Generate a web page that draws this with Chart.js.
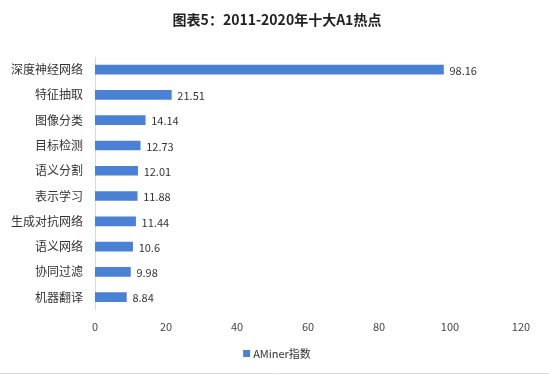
<!DOCTYPE html>
<html>
<head>
<meta charset="utf-8">
<script src="https://cdn.jsdelivr.net/npm/chart.js@4"></script>
<style>
  body { margin: 0; background: #fff; }
  canvas { display: block; }
</style>
</head>
<body>
<canvas id="myChart" width="549" height="385"></canvas>
<script>
// categories and values
var categories = ["深度神经网络", "特征抽取", "图像分类", "目标检测", "语义分割", "表示学习", "生成对抗网络", "语义网络", "协同过滤", "机器翻译"];
var values = [98.16, 21.51, 14.14, 12.73, 12.01, 11.88, 11.44, 10.6, 9.98, 8.84];
var valueLabels = ["98.16", "21.51", "14.14", "12.73", "12.01", "11.88", "11.44", "10.6", "9.98", "8.84"];
var xTicks = [0, 20, 40, 60, 80, 100, 120];

var titleText = "图表5：2011-2020年十大A1热点";
var font = "'Noto Sans CJK SC', 'Noto Sans', sans-serif";
var barColor = '#4a81d4';

// write the value next to each bar
var valuePlugin = {
    id: 'valueLabels',
    afterDatasetsDraw: function (chart) {
        var ctx = chart.ctx;
        var meta = chart.getDatasetMeta(0);
        ctx.save();
        ctx.font = "11px " + font;
        ctx.fillStyle = '#333';
        ctx.textBaseline = 'middle';
        meta.data.forEach(function (bar, i) {
            ctx.fillText(valueLabels[i], bar.x + 6, bar.y + 1);
        });
        ctx.restore();
    }
};

// title, legend and the grey rule, centred a bit right of the canvas middle like the original
var decorPlugin = {
    id: 'decor',
    afterDraw: function (chart) {
        var ctx = chart.ctx;
        var cx = 277;
        ctx.save();
        ctx.font = "bold 14px " + font;
        ctx.fillStyle = '#222';
        ctx.textAlign = 'center';
        ctx.textBaseline = 'middle';
        ctx.fillText(titleText, cx, 20);

        ctx.font = "11px " + font;
        var label = chart.data.datasets[0].label;
        var w = 7 + 3 + ctx.measureText(label).width;
        var x0 = cx - w / 2;
        ctx.fillStyle = chart.data.datasets[0].backgroundColor;
        ctx.fillRect(x0, 350, 7, 7);
        ctx.fillStyle = '#333';
        ctx.textAlign = 'left';
        ctx.fillText(label, x0 + 10, 354);

        ctx.strokeStyle = '#d9d9d9';
        ctx.lineWidth = 1;
        ctx.beginPath();
        ctx.moveTo(0, 373.5);
        ctx.lineTo(549, 373.5);
        ctx.stroke();
        ctx.restore();
    }
};

var ctx = document.getElementById('myChart').getContext('2d');
var chart = new Chart(ctx, {
    type: 'bar',
    data: {
        labels: categories,
        datasets: [{
            label: "AMiner指数",
            data: values,
            backgroundColor: barColor,
            borderWidth: 0,
            barThickness: 9
        }]
    },
    options: {
        indexAxis: 'y',
        responsive: false,
        animation: false,
        layout: { padding: { left: 0, right: 28, top: 57, bottom: 50 } },
        scales: {
            x: {
                min: 0,
                max: 120,
                afterBuildTicks: function (axis) {
                    axis.ticks = xTicks.map(function (v) { return { value: v }; });
                },
                grid: { display: false },
                border: { display: false },
                ticks: { color: '#444', font: { size: 11, family: font }, padding: 2 }
            },
            y: {
                afterFit: function (axis) { axis.width = 95; },
                grid: { display: false },
                border: { display: true, color: '#d9d9d9' },
                ticks: { color: '#333', font: { size: 12, family: font }, padding: 4 }
            }
        },
        plugins: {
            title: { display: false },
            legend: { display: false },
            tooltip: { enabled: false }
        }
    },
    plugins: [valuePlugin, decorPlugin]
});
</script>
</body>
</html>
